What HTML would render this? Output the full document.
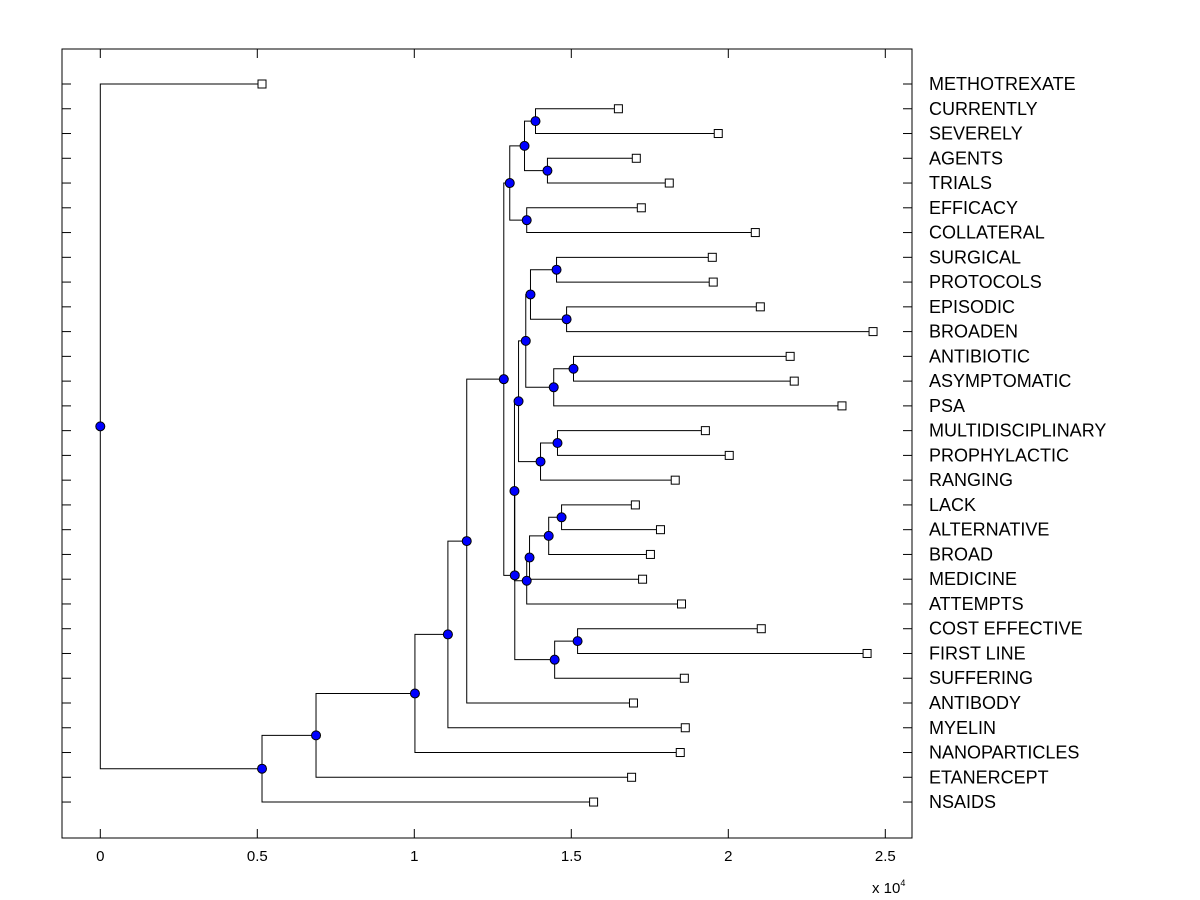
<!DOCTYPE html>
<html><head><meta charset="utf-8"><style>
html,body{margin:0;padding:0;background:#fff;}
svg{display:block;font-family:"Liberation Sans",Arial,sans-serif;}
</style></head><body>
<svg id="chart" width="1200" height="900" viewBox="0 0 1200 900" xmlns="http://www.w3.org/2000/svg">
<rect x="62" y="49" width="850" height="789" fill="#fff" stroke="#000" stroke-width="1"/>
<g id="axes"></g>
<g id="links"></g>
<g id="markers"></g>
<g id="labels"></g>
<text x="872" y="893" font-size="15">x 10<tspan font-size="9" dy="-7">4</tspan></text>
</svg>
<script>
const leafLabels = ["METHOTREXATE","CURRENTLY","SEVERELY","AGENTS","TRIALS","EFFICACY","COLLATERAL","SURGICAL","PROTOCOLS","EPISODIC","BROADEN","ANTIBIOTIC","ASYMPTOMATIC","PSA","MULTIDISCIPLINARY","PROPHYLACTIC","RANGING","LACK","ALTERNATIVE","BROAD","MEDICINE","ATTEMPTS","COST EFFECTIVE","FIRST LINE","SUFFERING","ANTIBODY","MYELIN","NANOPARTICLES","ETANERCEPT","NSAIDS"];
const leafValues = [0.515,1.650,1.968,1.707,1.812,1.723,2.086,1.949,1.952,2.102,2.461,2.197,2.210,2.362,1.927,2.003,1.831,1.704,1.784,1.752,1.727,1.851,2.105,2.442,1.860,1.698,1.863,1.847,1.692,1.571];
const nodeNames = ["root","A","B","C","D","E","F","G","I","K","L","J","H","M","N","P","R","T","U","S","V","Q","W","O","O2","O3","O4","Hb","X"];
const nodeHeights = [0,0.515,0.687,1.002,1.107,1.167,1.285,1.304,1.351,1.386,1.424,1.358,1.320,1.319,1.332,1.355,1.370,1.453,1.485,1.444,1.507,1.402,1.456,1.358,1.367,1.428,1.469,1.447,1.520];
const nodeUpper = [0,"B","C","D","E","F","G","I","K",1,3,5,"M","N","P","R","T",7,9,"V",11,"W",14,"O2","O3","O4",17,"X",22];
const nodeLower = ["A",29,28,27,26,25,"H","J","L",2,4,6,"Hb","O","Q","S","U",8,10,13,12,16,15,21,20,19,18,24,23];
const xTicks = [0,0.5,1,1.5,2,2.5];
const xTickLabels = ["0","0.5","1","1.5","2","2.5"];

const NS="http://www.w3.org/2000/svg";
const X0=100.3, XS=314, L=62, R=912, T=49, B=838;
const ROW0=84, ROWS=24.76;
const xs=v=>X0+v*XS;
const ys=i=>ROW0+i*ROWS;
function mk(tag,attrs,parent){const e=document.createElementNS(NS,tag);for(const k in attrs)e.setAttribute(k,attrs[k]);document.getElementById(parent).appendChild(e);return e;}

xTicks.forEach((t,i)=>{
  let e=mk("line",{x1:xs(t),x2:xs(t),y1:B,y2:B-9,stroke:"#000"},"axes");
  
  
  e=mk("line",{x1:xs(t),x2:xs(t),y1:T,y2:T+9,stroke:"#000"},"axes");
  
  
  e=mk("text",{x:xs(t),y:861,"font-size":15,"text-anchor":"middle"},"axes");
  e.textContent=xTickLabels[i];
  
  
});
leafLabels.forEach((lab,i)=>{
  let e=mk("line",{x1:L,x2:L+9,y1:ys(i),y2:ys(i),stroke:"#000"},"axes");
  
  
  e=mk("line",{x1:R,x2:R-9,y1:ys(i),y2:ys(i),stroke:"#000"},"axes");
  
  
  e=mk("text",{x:929,y:ys(i)+6,"font-size":18},"labels");
  e.textContent=lab;
  
  
});

function info(ref){
  if(typeof ref==="number") return {x:xs(leafValues[ref]),y:ys(ref)};
  const i=nodeNames.indexOf(ref);
  return {x:xs(nodeHeights[i]),y:nodeY(i)};
}
function nodeY(i){return (info(nodeUpper[i]).y+info(nodeLower[i]).y)/2;}

nodeNames.forEach((n,i)=>{
  const nx=xs(nodeHeights[i]);
  const a=info(nodeUpper[i]), b=info(nodeLower[i]);
  let e=mk("path",{d:`M${a.x},${a.y}H${nx}V${b.y}H${b.x}`,fill:"none",stroke:"#000","stroke-width":1},"links");
  
  
});
leafValues.forEach((v,i)=>{
  let e=mk("rect",{x:xs(v)-4,y:ys(i)-4,width:8,height:8,fill:"#fff",stroke:"#000"},"markers");
  
  
});
nodeNames.forEach((n,i)=>{
  let e=mk("circle",{cx:xs(nodeHeights[i]),cy:nodeY(i),r:4.5,fill:"#0000ff",stroke:"#000","stroke-width":1},"markers");
  
  
});
</script>
</body></html>
